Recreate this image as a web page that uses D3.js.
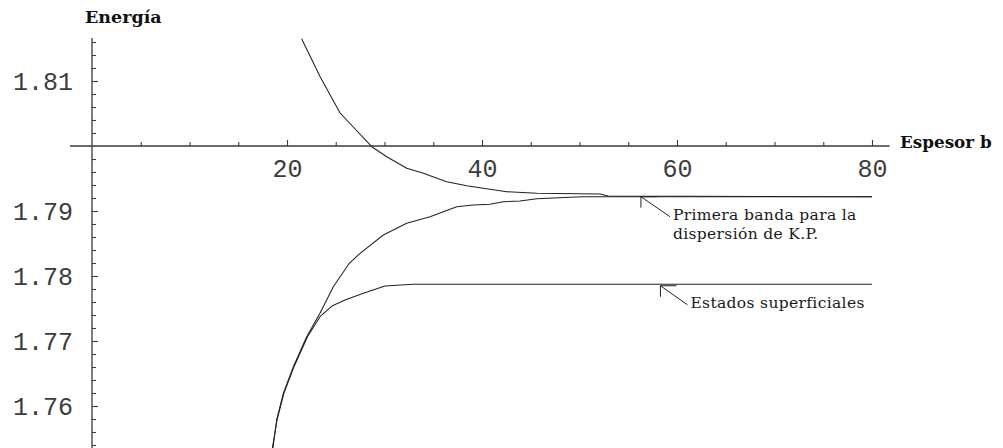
<!DOCTYPE html>
<html>
<head>
<meta charset="utf-8">
<script src="https://cdn.jsdelivr.net/npm/d3@7"></script>
<style>
  html, body { margin: 0; padding: 0; background: #fff; }
  svg { display: block; }
</style>
</head>
<body>
<svg id="chart" width="1003" height="448"></svg>
<script>
// Energy levels versus slab thickness b
const xMajorTicks = [20, 40, 60, 80];
const yMajorTicks = [1.76, 1.77, 1.78, 1.79, 1.81];

// Upper level coming down from above
const bandTopX = [21.5, 23.4, 25.44, 26.12, 28.69, 30.23, 32.28, 33.98, 36.38, 38.43, 40.13, 42.53, 45.61, 52.1, 52.92, 80];
const bandTopE = [1.8165, 1.81066, 1.80508, 1.804, 1.79989, 1.79835, 1.79657, 1.7958, 1.79451, 1.79389, 1.79349, 1.79297, 1.79272, 1.79262, 1.79231, 1.7922];

// First band from the K.P. dispersion, rising from below
const bandKPX = [18.56, 18.94, 19.62, 20.65, 22.02, 23.38, 24.75, 26.39, 27.49, 29.88, 32.28, 34.67, 37.41, 39.11, 40.82, 42.18, 43.9, 45.61, 49.03, 50.39, 80];
const bandKPE = [1.75354, 1.75785, 1.76195, 1.76605, 1.77066, 1.77426, 1.77835, 1.78195, 1.78349, 1.78631, 1.78811, 1.78912, 1.79066, 1.79092, 1.79103, 1.79143, 1.79154, 1.79189, 1.79211, 1.7922, 1.7922];

// Surface states
const surfX = [18.5, 18.98, 19.68, 20.72, 22.1, 23.38, 24.6, 25.95, 27.83, 30.05, 32.95, 80];
const surfE = [1.75354, 1.75785, 1.76195, 1.76605, 1.77066, 1.77374, 1.77538, 1.77631, 1.77734, 1.77846, 1.77872, 1.77872];

const annotations = [
  { x: 56.3, e: 1.7922, lines: ["Primera banda para la", "dispersión de K.P."], dx: 32, dy: 23 },
  { x: 58.3, e: 1.7785, lines: ["Estados superficiales"], dx: 30, dy: 22 }
];

const svg = d3.select("#chart");

const x = d3.scaleLinear().domain([0, 80]).range([92, 872]);
const y = d3.scaleLinear().domain([1.76, 1.81]).range([406, 81]);

const xAxisExtent = [-2.25, 81.8];
const yAxisExtent = [1.7535, 1.8166];
const axisE = 1.80;

const axisColor = "#3a3a3a";
const tickFont = "'Liberation Mono', 'DejaVu Sans Mono', monospace";
const titleFont = "'DejaVu Serif', serif";

// --- axes --------------------------------------------------------------
const xMinor = d3.range(1, 17).map(i => i * 5).filter(v => !xMajorTicks.includes(v));
const yMinor = d3.range(877, 909).map(i => i / 500)
  .filter(v => !yMajorTicks.some(t => Math.abs(t - v) < 1e-9) && Math.abs(v - axisE) > 1e-9);

svg.append("line")
  .attr("x1", x(xAxisExtent[0])).attr("x2", x(xAxisExtent[1]))
  .attr("y1", y(axisE)).attr("y2", y(axisE))
  .attr("stroke", axisColor).attr("stroke-width", 1.3);

svg.append("line")
  .attr("x1", x(0)).attr("x2", x(0))
  .attr("y1", y(yAxisExtent[0])).attr("y2", y(yAxisExtent[1]))
  .attr("stroke", axisColor).attr("stroke-width", 1.3);

const gxMinor = svg.append("g")
  .attr("transform", `translate(0,${y(axisE)})`)
  .call(d3.axisBottom(x).tickValues(xMinor).tickSizeInner(-4).tickSizeOuter(0).tickFormat(""));
const gxMajor = svg.append("g")
  .attr("transform", `translate(0,${y(axisE)})`)
  .call(d3.axisBottom(x).tickValues(xMajorTicks).tickSizeInner(-6).tickSizeOuter(0).tickPadding(13).tickFormat(d3.format("d")));

const gyMinor = svg.append("g")
  .attr("transform", `translate(${x(0)},0)`)
  .call(d3.axisLeft(y).tickValues(yMinor).tickSizeInner(-4).tickSizeOuter(0).tickFormat(""));
const gyMajor = svg.append("g")
  .attr("transform", `translate(${x(0)},0)`)
  .call(d3.axisLeft(y).tickValues(yMajorTicks).tickSizeInner(-6).tickSizeOuter(0).tickPadding(19).tickFormat(d3.format(".2f")));

[gxMinor, gxMajor, gyMinor, gyMajor].forEach(g => {
  g.select(".domain").remove();
  g.selectAll(".tick line").attr("stroke", axisColor).attr("stroke-width", 1.1);
  g.selectAll(".tick text")
    .attr("font-family", tickFont)
    .attr("font-size", 25)
    .attr("fill", "#3c3c3c");
});

// axis titles
svg.append("text")
  .attr("x", 85).attr("y", 23)
  .attr("font-family", titleFont)
  .attr("font-weight", "bold")
  .attr("font-size", 17.5)
  .attr("fill", "#111")
  .text("Energía");

svg.append("text")
  .attr("x", 900).attr("y", y(axisE) + 2)
  .attr("font-family", titleFont)
  .attr("font-weight", "bold")
  .attr("font-size", 16.8)
  .attr("fill", "#111")
  .text("Espesor b");

// --- curves -----------------------------------------------------------
svg.append("clipPath").attr("id", "plot-clip")
  .append("rect")
  .attr("x", x(0)).attr("y", y(yAxisExtent[1]))
  .attr("width", 1003 - x(0)).attr("height", 448 - y(yAxisExtent[1]));

const line = d3.line().x(d => x(d[0])).y(d => y(d[1]));
const series = [
  d3.zip(bandTopX, bandTopE),
  d3.zip(bandKPX, bandKPE),
  d3.zip(surfX, surfE)
];

svg.append("g").attr("clip-path", "url(#plot-clip)")
  .selectAll("path")
  .data(series)
  .join("path")
  .attr("d", line)
  .attr("fill", "none")
  .attr("stroke", "#222")
  .attr("stroke-width", 1.05)
  .attr("stroke-linejoin", "round");

// --- annotations ------------------------------------------------------
const ann = svg.append("g");
annotations.forEach(a => {
  const tx = x(a.x), ty = y(a.e);
  ann.append("path")
    .attr("d", `M${tx},${ty + 11}L${tx},${ty}L${tx + 16},${ty}M${tx},${ty}L${tx + a.dx - 3},${ty + a.dy - 3}`)
    .attr("fill", "none")
    .attr("stroke", "#222")
    .attr("stroke-width", 1);
  const t = ann.append("text")
    .attr("font-family", titleFont)
    .attr("font-size", 15.5)
    .attr("letter-spacing", 0.35)
    .attr("fill", "#1a1a1a");
  a.lines.forEach((s, i) => {
    t.append("tspan")
      .attr("x", tx + a.dx)
      .attr("y", ty + a.dy + i * 19)
      .text(s);
  });
});
</script>
</body>
</html>
